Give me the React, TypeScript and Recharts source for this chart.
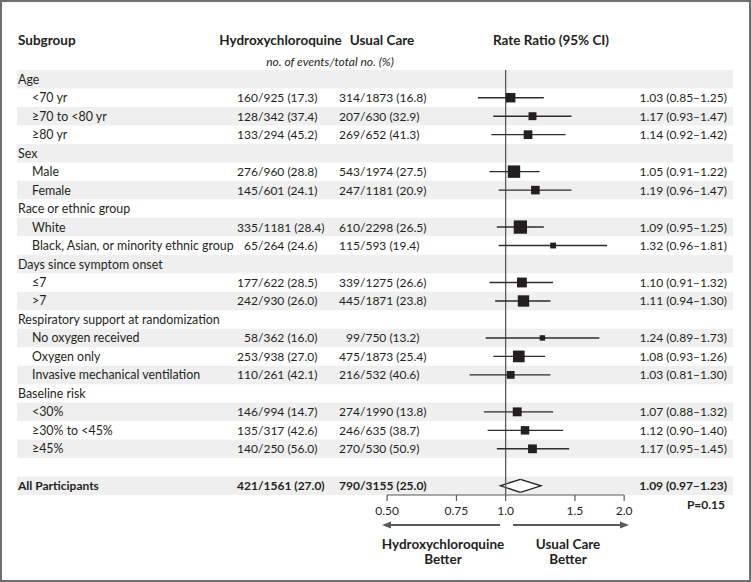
import React from "react";
import {
  ComposedChart,
  Scatter,
  ErrorBar,
  XAxis,
  YAxis,
  ReferenceLine,
  ReferenceArea,
} from "recharts";

const FONT = "Lato, 'Open Sans', sans-serif";
const INK = "#231f20";
const AXIS = "#5a5a5a";
const STRIPE = "#efefef";

// subgroups grouped under headers
const groupHeaders = [
  "Age",
  "Sex",
  "Race or ethnic group",
  "Days since symptom onset",
  "Respiratory support at randomization",
  "Baseline risk",
];
const groupSizes = [3, 2, 2, 2, 3, 3];
const subgroups = [
  "<70 yr",
  "≥70 to <80 yr",
  "≥80 yr",
  "Male",
  "Female",
  "White",
  "Black, Asian, or minority ethnic group",
  "≤7",
  ">7",
  "No oxygen received",
  "Oxygen only",
  "Invasive mechanical ventilation",
  "<30%",
  "≥30% to <45%",
  "≥45%",
];
const hcqEvents = [160, 128, 133, 276, 145, 335, 65, 177, 242, 58, 253, 110, 146, 135, 140];
const hcqTotal = [925, 342, 294, 960, 601, 1181, 264, 622, 930, 362, 938, 261, 994, 317, 250];
const hcqPct = [17.3, 37.4, 45.2, 28.8, 24.1, 28.4, 24.6, 28.5, 26.0, 16.0, 27.0, 42.1, 14.7, 42.6, 56.0];
const ucEvents = [314, 207, 269, 543, 247, 610, 115, 339, 445, 99, 475, 216, 274, 246, 270];
const ucTotal = [1873, 630, 652, 1974, 1181, 2298, 593, 1275, 1871, 750, 1873, 532, 1990, 635, 530];
const ucPct = [16.8, 32.9, 41.3, 27.5, 20.9, 26.5, 19.4, 26.6, 23.8, 13.2, 25.4, 40.6, 13.8, 38.7, 50.9];
const rateRatio = [1.03, 1.17, 1.14, 1.05, 1.19, 1.09, 1.32, 1.1, 1.11, 1.24, 1.08, 1.03, 1.07, 1.12, 1.17];
const ciLow = [0.85, 0.93, 0.92, 0.91, 0.96, 0.95, 0.96, 0.91, 0.94, 0.89, 0.93, 0.81, 0.88, 0.9, 0.95];
const ciHigh = [1.25, 1.47, 1.42, 1.22, 1.47, 1.25, 1.81, 1.32, 1.3, 1.73, 1.26, 1.3, 1.32, 1.4, 1.45];

const overallLabel = "All Participants";
const overallHcq = [421, 1561, 27.0];
const overallUc = [790, 3155, 25.0];
const overallRR = 1.09;
const overallLow = 0.97;
const overallHigh = 1.23;
const pValue = "P=0.15";

const xTicks = [0.5, 0.75, 1, 1.5, 2];
const xTickLabels = ["0.50", "0.75", "1.0", "1.5", "2.0"];

type Row = {
  row: string;
  kind: "group" | "sub" | "blank" | "total";
  rr: number | null;
  est?: number;
  lo?: number;
  hi?: number;
  ci?: number[];
  events?: number;
  hcq?: number[];
  uc?: number[];
};

const rows: Row[] = [];
let k = 0;
groupHeaders.forEach((g, gi) => {
  rows.push({ row: g, kind: "group", rr: null });
  for (let j = 0; j < groupSizes[gi]; j++, k++) {
    rows.push({
      row: subgroups[k],
      kind: "sub",
      rr: rateRatio[k],
      est: rateRatio[k],
      lo: ciLow[k],
      hi: ciHigh[k],
      ci: [rateRatio[k] - ciLow[k], ciHigh[k] - rateRatio[k]],
      events: hcqEvents[k] + ucEvents[k],
      hcq: [hcqEvents[k], hcqTotal[k], hcqPct[k]],
      uc: [ucEvents[k], ucTotal[k], ucPct[k]],
    });
  }
});
rows.push({ row: " ", kind: "blank", rr: null });
rows.push({
  row: overallLabel,
  kind: "total",
  rr: null,
  est: overallRR,
  lo: overallLow,
  hi: overallHigh,
  hcq: overallHcq,
  uc: overallUc,
});
const rowByLabel = new Map(rows.map((r) => [r.row, r]));

// text column positions
const COL = { group: 18, sub: 32, hcqSlash: 258, ucSlash: 360, ratioEnd: 727 };

const fmtCount = (v: number[]) => `/${v[1]} (${v[2].toFixed(1)})`;

function RowTick({ y, payload }: any) {
  const r = rowByLabel.get(payload.value);
  if (!r || r.kind === "blank") return <g />;
  const bold = r.kind === "total";
  const t = {
    fontFamily: FONT,
    fontSize: 12,
    fill: INK,
    fontWeight: bold ? 700 : 400,
    dominantBaseline: "central" as const,
  };
  return (
    <g>
      <text x={r.kind === "sub" ? COL.sub : COL.group} y={y} {...t} fontSize={bold ? 12 : 12.4}>
        {r.row}
      </text>
      {r.hcq && (
        <>
          <text x={COL.hcqSlash} y={y} textAnchor="end" {...t}>{r.hcq[0]}</text>
          <text x={COL.hcqSlash} y={y} {...t}>{fmtCount(r.hcq)}</text>
        </>
      )}
      {r.uc && (
        <>
          <text x={COL.ucSlash} y={y} textAnchor="end" {...t}>{r.uc[0]}</text>
          <text x={COL.ucSlash} y={y} {...t}>{fmtCount(r.uc)}</text>
        </>
      )}
      {r.est != null && (
        <text x={COL.ratioEnd} y={y} textAnchor="end" {...t}>
          {`${r.est.toFixed(2)} (${r.lo!.toFixed(2)}–${r.hi!.toFixed(2)})`}
        </text>
      )}
    </g>
  );
}

const renderBox = (p: any) => {
  const d = p.payload;
  if (!d || d.rr == null || p.cx == null || Number.isNaN(p.cx)) return <g />;
  const s = 0.433 * Math.sqrt(d.events);
  return <rect x={p.cx - s / 2} y={p.cy - s / 2} width={s} height={s} fill={INK} />;
};

const halfDiamond = (side: "left" | "right") => (p: any) => {
  const { x, y, width, height } = p;
  const cy = y + height / 2;
  const h = 6.5;
  const tip = side === "left" ? x : x + width;
  const mid = side === "left" ? x + width : x;
  return (
    <g>
      <polygon points={`${tip},${cy} ${mid},${cy - h} ${mid},${cy + h}`} fill="#fff" />
      <path
        d={`M${mid},${cy - h} L${tip},${cy} L${mid},${cy + h}`}
        fill="none"
        stroke={INK}
        strokeWidth={1.3}
      />
    </g>
  );
};

export default function App() {
  const head = { fontFamily: FONT, fontSize: 13.5, fill: INK, fontWeight: 700 };
  return (
    <div style={{ position: "absolute", left: 0, top: 0, width: 751, height: 582, background: "#fff" }}>
      <ComposedChart
        width={751}
        height={582}
        data={rows}
        layout="vertical"
        margin={{ top: 70, right: 18, bottom: 57, left: 16 }}
      >
        {rows.map((r, i) =>
          i % 2 === 0 ? (
            <ReferenceArea
              key={`s${i}`}
              y1={r.row}
              y2={r.row}
              fill={STRIPE}
              fillOpacity={1}
              stroke="none"
              ifOverflow="visible"
            />
          ) : null
        )}
        <ReferenceArea
          y1={overallLabel}
          y2={overallLabel}
          x1={overallLow}
          x2={overallRR}
          ifOverflow="visible"
          shape={halfDiamond("left")}
        />
        <ReferenceArea
          y1={overallLabel}
          y2={overallLabel}
          x1={overallRR}
          x2={overallHigh}
          ifOverflow="visible"
          shape={halfDiamond("right")}
        />
        <ReferenceLine x={1} stroke={AXIS} strokeWidth={1.3} ifOverflow="visible" />
        <ReferenceLine
          segment={[
            { x: 0.5, y: overallLabel },
            { x: 2, y: overallLabel },
          ]}
          position="end"
          stroke={AXIS}
          strokeWidth={1.2}
          ifOverflow="visible"
        />
        <XAxis
          type="number"
          dataKey="rr"
          scale="log"
          domain={[0.0574, 3.78]}
          allowDataOverflow
          ticks={xTicks}
          interval={0}
          tickFormatter={(v: number) => xTickLabels[xTicks.indexOf(v)]}
          axisLine={false}
          tickLine={{ stroke: AXIS, strokeWidth: 1.2 }}
          tickSize={6}
          tickMargin={5}
          height={30}
          tick={{ fill: INK, fontSize: 12, fontFamily: FONT }}
        />
        <YAxis
          type="category"
          scale="band"
          dataKey="row"
          width={1}
          axisLine={false}
          tickLine={false}
          tickSize={0}
          tickMargin={0}
          interval={0}
          tick={RowTick}
        />
        <Scatter dataKey="rr" isAnimationActive={false} shape={renderBox}>
          <ErrorBar dataKey="ci" direction="x" width={0} stroke="#2c2c2c" strokeWidth={1.4} />
        </Scatter>
      </ComposedChart>

      <svg
        width={751}
        height={582}
        style={{ position: "absolute", left: 0, top: 0, pointerEvents: "none" }}
      >
        <rect x={1} y={1} width={749} height={580} fill="none" stroke="#6e6e6e" strokeWidth={2} />
        <text x={18} y={40} dominantBaseline="central" {...head}>Subgroup</text>
        <text x={280.5} y={40} textAnchor="middle" dominantBaseline="central" {...head}>Hydroxychloroquine</text>
        <text x={382} y={40} textAnchor="middle" dominantBaseline="central" {...head}>Usual Care</text>
        <text x={551} y={40} textAnchor="middle" dominantBaseline="central" {...head}>Rate Ratio (95% CI)</text>
        <text
          x={330}
          y={61}
          textAnchor="middle"
          dominantBaseline="central"
          fontFamily={FONT}
          fontSize={12}
          fontStyle="italic"
          fill={INK}
        >
          no. of events/total no. (%)
        </text>
        <text x={725} y={504} textAnchor="end" dominantBaseline="central" {...head} fontSize={12}>
          {pValue}
        </text>

        <line x1={500} y1={525} x2={389} y2={525} stroke={AXIS} strokeWidth={1.8} />
        <polygon points="382,525 391,521.5 391,528.5" fill={AXIS} />
        <line x1={513} y1={525} x2={621} y2={525} stroke={AXIS} strokeWidth={1.8} />
        <polygon points="629,525 620,521.5 620,528.5" fill={AXIS} />

        <text x={443} y={544} textAnchor="middle" dominantBaseline="central" {...head}>Hydroxychloroquine</text>
        <text x={443} y={559} textAnchor="middle" dominantBaseline="central" {...head}>Better</text>
        <text x={568} y={544} textAnchor="middle" dominantBaseline="central" {...head}>Usual Care</text>
        <text x={568} y={559} textAnchor="middle" dominantBaseline="central" {...head}>Better</text>
      </svg>
    </div>
  );
}
